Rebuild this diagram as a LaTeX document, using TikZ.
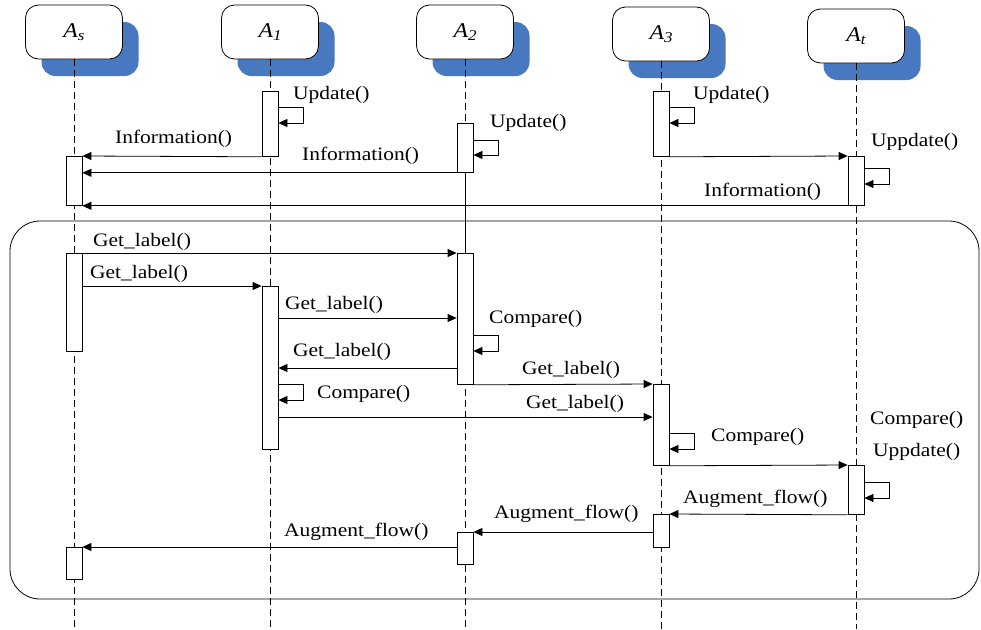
\documentclass[tikz,border=0pt]{standalone}
\usepackage{fontspec}
\usepackage{graphicx}
\setmainfont{Liberation Serif}
\usetikzlibrary{arrows.meta,calc}
\definecolor{shblue}{RGB}{72,120,192}
\newcommand{\lbl}[1]{\scalebox{1.13}[1]{#1}}
\newcommand{\hsub}[1]{\raisebox{-0.35ex}{\fontsize{15}{15}\selectfont #1}}
\begin{document}
\begin{tikzpicture}[x=1pt,y=-1pt,
  head/.style={draw=black, fill=white, rounded corners=13pt, minimum width=97pt, minimum height=54pt, line width=0.8pt, inner sep=0pt, font=\fontsize{21}{24}\selectfont\itshape},
  headsh/.style={fill=shblue, rounded corners=14pt, minimum width=97pt, minimum height=54pt, inner sep=0pt},
  life/.style={dash pattern=on 7pt off 4pt, line width=0.7pt},
  act/.style={draw, fill=white, minimum width=16pt, inner sep=0pt, line width=0.8pt, anchor=north},
  msg/.style={-{Triangle[length=9pt,width=8pt]}, line width=0.8pt},
  lab/.style={font=\fontsize{19}{22}\selectfont, inner sep=0pt, anchor=base west},
]
\useasboundingbox (0,0) rectangle (981,629);

% frame
\draw[line width=0.8pt, rounded corners=30pt] (10,221) rectangle (979,599);

% header shadows
\node[headsh] (hs-sh) at (90,49) {};
\node[headsh] (h1-sh) at (286,49) {};
\node[headsh] (h2-sh) at (481,49) {};
\node[headsh] (h3-sh) at (677,51) {};
\node[headsh] (ht-sh) at (872,53) {};
% headers
\node[head] (hs) at (74,32) {\lbl{A\hsub{s}}};
\node[head] (h1) at (270,32) {\lbl{A\hsub{1}}};
\node[head] (h2) at (465,32) {\lbl{A\hsub{2}}};
\node[head] (h3) at (661,34) {\lbl{A\hsub{3}}};
\node[head] (ht) at (856,36) {\lbl{A\hsub{t}}};

% lifelines
\draw[life] (hs.south) -- (hs.south |- 0,629);
\draw[life] (h1.south) -- (h1.south |- 0,629);
\draw[life] (h2.south) -- (h2.south |- 0,629);
\draw[life] (h3.south) -- (h3.south |- 0,629);
\draw[life] (ht.south) -- (ht.south |- 0,629);

% activation boxes
\node[act, minimum height=49pt] (asb1) at (74,156) {};
\node[act, minimum height=65pt] (a1b1) at (270,91) {};
\node[act, minimum height=49pt] (a2b1) at (465,123) {};
\node[act, minimum height=65pt] (a3b1) at (661,91) {};
\node[act, minimum height=49pt] (atb1) at (856,156) {};
\node[act, minimum height=98pt] (asb2) at (74,253) {};
\node[act, minimum height=131pt] (a2b2) at (465,253) {};
\node[act, minimum height=163pt] (a1b2) at (270,286) {};
\node[act, minimum height=81pt] (a3b2) at (661,384) {};
\node[act, minimum height=49pt] (atb2) at (856,465) {};
\node[act, minimum height=33pt] (a3b3) at (661,514) {};
\node[act, minimum height=32pt] (a2b3) at (465,532) {};
\node[act, minimum height=32pt] (asb3) at (74,547) {};

% solid lifeline segment of A2
\draw[line width=0.8pt] (a2b1.south) -- (a2b2.north);

% messages (top part)
\draw[msg] (a1b1.east |- 0,107) -- ++(25,0) -- ++(0,16) -- (a1b1.east |- 0,123);
\draw[msg] (a1b1.south west) -- (asb1.north east);
\draw[msg] (a2b1.east |- 0,140) -- ++(25,0) -- ++(0,15) -- (a2b1.east |- 0,155);
\draw[msg] (a2b1.south west) -- (asb1.east |- a2b1.south west);
\draw[msg] (a3b1.east |- 0,107) -- ++(25,0) -- ++(0,16) -- (a3b1.east |- 0,123);
\draw[msg] (a3b1.south east) -- (atb1.north west);
\draw[msg] (atb1.east |- 0,168) -- ++(25,0) -- ++(0,16) -- (atb1.east |- 0,184);
\draw[msg] (atb1.south west) -- (asb1.south east);

% messages (frame)
\draw[msg] (asb2.north east) -- (a2b2.north west);
\draw[msg] (asb2.east |- a1b2.north) -- (a1b2.north west);
\draw[msg] (a1b2.east |- 0,318) -- (a2b2.west |- 0,318);
\draw[msg] (a2b2.west |- 0,368) -- (a1b2.east |- 0,368);
\draw[msg] (a2b2.east |- 0,335) -- ++(25,0) -- ++(0,16) -- (a2b2.east |- 0,351);
\draw[msg] (a1b2.east |- 0,384) -- ++(25,0) -- ++(0,16) -- (a1b2.east |- 0,400);
\draw[msg] (a2b2.south east) -- (a3b2.north west);
\draw[msg] (a1b2.east |- 0,417) -- (a3b2.west |- 0,417);
\draw[msg] (a3b2.east |- 0,433) -- ++(25,0) -- ++(0,16) -- (a3b2.east |- 0,449);
\draw[msg] (a3b2.south east) -- (atb2.north west);
\draw[msg] (atb2.east |- 0,482) -- ++(25,0) -- ++(0,16) -- (atb2.east |- 0,498);
\draw[msg] (atb2.south west) -- (a3b3.north east);
\draw[msg] (a3b3.west |- a2b3.north) -- (a2b3.north east);
\draw[msg] (a2b3.west |- asb3.north) -- (asb3.north east);

% labels
\node[lab] (l1) at (293,99) {\lbl{Update()}};
\node[lab] (l2) at (115,143) {\lbl{Information()}};
\node[lab] (l3) at (490,127) {\lbl{Update()}};
\node[lab] (l4) at (302,160) {\lbl{Information()}};
\node[lab] (l5) at (693,99) {\lbl{Update()}};
\node[lab] (l6) at (871,146) {\lbl{Uppdate()}};
\node[lab] (l7) at (704,196) {\lbl{Information()}};
\node[lab] (l8) at (93,246) {\lbl{Get\_label()}};
\node[lab] (l9) at (90,278) {\lbl{Get\_label()}};
\node[lab] (l10) at (285,309) {\lbl{Get\_label()}};
\node[lab] (l11) at (293,356) {\lbl{Get\_label()}};
\node[lab] (l12) at (489,323) {\lbl{Compare()}};
\node[lab] (l13) at (317,398) {\lbl{Compare()}};
\node[lab] (l14) at (522,374) {\lbl{Get\_label()}};
\node[lab] (l15) at (526,408) {\lbl{Get\_label()}};
\node[lab] (l16) at (711,441) {\lbl{Compare()}};
\node[lab] (l17) at (870,424) {\lbl{Compare()}};
\node[lab] (l18) at (873,456) {\lbl{Uppdate()}};
\node[lab] (l19) at (683,503) {\lbl{Augment\_flow()}};
\node[lab] (l20) at (494,518) {\lbl{Augment\_flow()}};
\node[lab] (l21) at (284,536) {\lbl{Augment\_flow()}};
\end{tikzpicture}
\end{document}
